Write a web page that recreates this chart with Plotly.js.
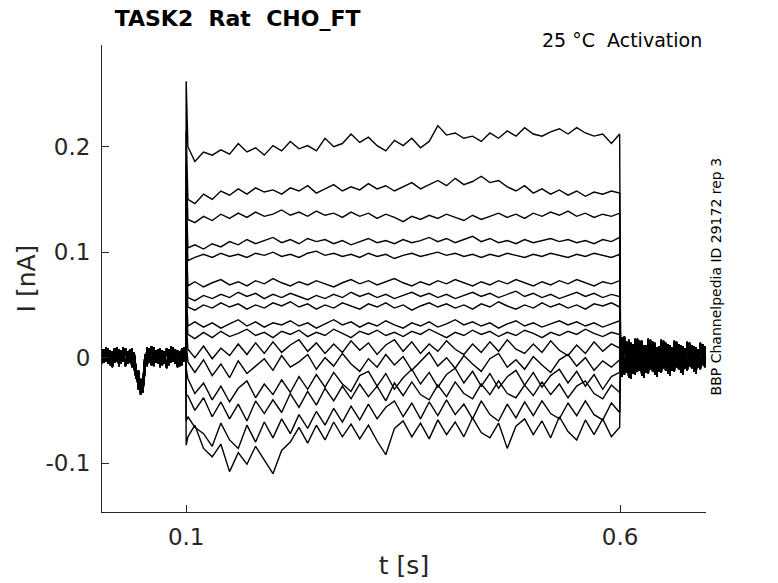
<!DOCTYPE html>
<html>
<head>
<meta charset="utf-8">
<script src="https://cdn.plot.ly/plotly-3.0.1.min.js"></script>
<style>
  html, body { margin: 0; padding: 0; background: #fff; }
  #plot { width: 778px; height: 583px; }
</style>
</head>
<body>
<div id="plot"></div>
<script>
// sample times [s]
var tPre = [0, 0.0025, 0.005, 0.0075, 0.01, 0.0125, 0.015, 0.0175, 0.02, 0.0225,
    0.025, 0.0275, 0.03, 0.0325, 0.035, 0.0375, 0.04, 0.0425, 0.045, 0.0475,
    0.05, 0.0525, 0.055, 0.0575, 0.06, 0.0625, 0.065, 0.0675, 0.07, 0.0725,
    0.075, 0.0775, 0.08, 0.0825, 0.085, 0.0875, 0.09, 0.0925, 0.095, 0.0975, 0.0995];
var tStep = [0.102, 0.11, 0.12, 0.13, 0.14, 0.15, 0.16, 0.17, 0.18, 0.19,
    0.20, 0.21, 0.22, 0.23, 0.24, 0.25, 0.26, 0.27, 0.28, 0.29,
    0.30, 0.31, 0.32, 0.33, 0.34, 0.35, 0.36, 0.37, 0.38, 0.39,
    0.40, 0.41, 0.42, 0.43, 0.44, 0.45, 0.46, 0.47, 0.48, 0.49,
    0.50, 0.51, 0.52, 0.53, 0.54, 0.55, 0.56, 0.57, 0.58, 0.59, 0.5995];
var tPost = [0.6005, 0.6025, 0.605, 0.6075, 0.61, 0.6125, 0.615, 0.6175, 0.62, 0.6225,
    0.625, 0.6275, 0.63, 0.6325, 0.635, 0.6375, 0.64, 0.6425, 0.645, 0.6475,
    0.65, 0.6525, 0.655, 0.6575, 0.66, 0.6625, 0.665, 0.6675, 0.67, 0.6725,
    0.675, 0.6775, 0.68, 0.6825, 0.685, 0.6875, 0.69, 0.6925, 0.695, 0.6975, 0.7];

// currents in pA (plotted in nA); two holding-level baselines, used by alternate sweeps
var preI1 = [5, -6, 8, -4, 9, -7, 6, -5, 10, -8, 7, -4, 9, -6, 8, -9, 5, -14, -30, -20,
    -33, -12, 10, -5, 11, -8, 7, -6, 9, -7, 6, -10, 8, -5, 10, -6, 7, -8, 9, -4, 6];
var preI2 = [-7, 8, -5, 10, -6, 7, -9, 9, -4, 8, -6, 10, -8, 6, -5, 9, -10, -20, -12, -35,
    -25, 3, -8, 9, -7, 10, -5, 8, -9, 7, -6, 9, -7, 11, -4, 8, -9, 6, -7, 10, -3];
var postI1 = [15, -18, 20, -14, 17, -20, 13, -16, 18, -12, 16, -19, 12, -15, 17, -13, 14, -18, 11, -14,
    16, -12, 13, -17, 10, -13, 15, -11, 12, -16, 9, -12, 14, -10, 11, -15, 8, -11, 13, -9, 10];
var postI2 = [-12, 19, -16, 15, -19, 14, -15, 18, -13, 16, -17, 12, -14, 18, -11, 15, -16, 10, -13, 17,
    -10, 14, -15, 12, -12, 16, -9, 13, -14, 11, -10, 15, -8, 12, -13, 10, -9, 14, -7, 11, -8];

var onsetPeak = [262, 215, 185, 160, 140, 120, 100, 85, 65, 50, 35, 15, -10, -35, -60, -83];

var stepA = [200, 186, 195, 192, 197, 193, 203, 195, 199, 192,
    201, 196, 205, 198, 201, 196, 208, 200, 203, 212,
    204, 209, 201, 196, 206, 201, 208, 199, 205, 220,
    211, 213, 208, 210, 205, 213, 208, 215, 210, 218,
    212, 210, 214, 217, 212, 218, 213, 210, 212, 203, 212];
var stepB = [150, 146, 155, 150, 158, 154, 160, 155, 161, 157,
    159, 155, 161, 158, 163, 156, 160, 164, 158, 162,
    159, 165, 160, 163, 158, 162, 166, 160, 164, 168,
    163, 170, 164, 167, 172, 166, 168, 162, 158, 163,
    156, 160, 155, 159, 154, 158, 153, 157, 155, 158, 156];
var stepC = [131, 128, 134, 130, 136, 132, 137, 133, 138, 134,
    136, 140, 135, 138, 134, 139, 135, 137, 133, 138,
    134, 137, 132, 136, 133, 129, 134, 131, 135, 132,
    136, 133, 130, 135, 131, 134, 137, 133, 136, 132,
    137, 134, 138, 135, 139, 134, 137, 133, 136, 134, 137];
var stepD = [104, 107, 103, 108, 105, 110, 107, 112, 108, 111,
    114, 109, 112, 108, 113, 110, 112, 108, 111, 107,
    110, 113, 109, 111, 108, 112, 109, 111, 114, 110,
    113, 109, 112, 115, 110, 113, 109, 111, 108, 112,
    109, 111, 113, 110, 112, 109, 111, 108, 112, 110, 114];
var stepE = [92, 95, 98, 95, 99, 96, 98, 95, 99, 97,
    100, 96, 98, 95, 99, 101, 97, 99, 96, 98,
    95, 99, 96, 98, 94, 97, 99, 96, 98, 100,
    97, 99, 96, 98, 95, 98, 96, 99, 97, 95,
    98, 96, 99, 97, 95, 98, 96, 99, 97, 95, 98];
var stepF = [68, 72, 67, 71, 74, 69, 72, 68, 73, 70,
    75, 71, 68, 72, 69, 73, 70, 67, 71, 74,
    70, 73, 69, 72, 75, 71, 68, 72, 69, 73,
    70, 74, 71, 68, 72, 69, 73, 70, 74, 71,
    68, 72, 69, 73, 70, 74, 71, 68, 72, 70, 73];
var stepG = [57, 54, 59, 56, 60, 57, 62, 58, 61, 56,
    60, 57, 61, 58, 55, 59, 56, 60, 57, 62,
    58, 61, 57, 60, 56, 59, 62, 58, 61, 57,
    60, 56, 59, 62, 58, 61, 57, 60, 63, 58,
    61, 57, 60, 56, 59, 62, 58, 61, 57, 60, 58];
var stepH = [48, 45, 50, 47, 52, 48, 51, 46, 50, 47,
    52, 49, 53, 48, 51, 46, 50, 47, 52, 49,
    46, 51, 48, 52, 47, 50, 45, 49, 52, 48,
    51, 47, 50, 46, 51, 48, 53, 49, 46, 50,
    47, 52, 48, 51, 47, 50, 46, 51, 49, 52, 48];
var stepI = [30, 34, 29, 33, 28, 32, 36, 30, 34, 29,
    33, 31, 35, 30, 33, 28, 32, 36, 31, 34,
    29, 33, 30, 35, 31, 28, 33, 30, 34, 29,
    32, 36, 31, 34, 30, 33, 28, 32, 35, 30,
    33, 29, 32, 35, 31, 34, 30, 33, 29, 32, 35];
var stepJ = [22, 18, 24, 19, 25, 20, 23, 27, 21, 24,
    19, 25, 22, 26, 20, 24, 21, 27, 23, 19,
    25, 22, 26, 21, 24, 20, 25, 22, 27, 23,
    19, 24, 21, 26, 22, 25, 20, 24, 21, 26,
    23, 19, 24, 21, 25, 22, 27, 23, 20, 24, 22];
var stepK = [8, 0, 11, -1, 9, 2, 13, 3, 14, 4,
    15, 5, 12, 17, 6, 14, 4, 13, 5, 16,
    7, 14, 3, 12, 17, 6, 15, 4, 13, 6,
    16, 8, 3, 13, 5, 15, 6, 17, 8, 4,
    13, 5, 16, 7, 2, 12, 4, 15, 6, 13, 9];
var stepL = [-4, -14, -2, -17, -6, -19, -3, -15, -8, -1,
    -12, 2, -9, -4, 3, -11, 0, -8, 4, -6,
    -13, -1, -9, 3, -7, 1, -12, -3, 5, -8,
    0, -10, 2, -6, -13, -1, 4, -9, -2, -11,
    1, -7, -14, -2, 3, -8, 0, -12, -3, -9, -2];
var stepM = [-20, -34, -24, -40, -27, -42, -29, -22, -38, -25,
    -35, -21, -33, -18, -30, -16, -28, -14, -25, -32,
    -17, -13, -27, -15, -30, -19, -11, -25, -14, -28,
    -16, -10, -24, -13, -27, -15, -29, -18, -12, -26,
    -14, -28, -17, -11, -24, -13, -27, -16, -30, -18, -14];
var stepN = [-36, -50, -38, -56, -42, -58, -44, -60, -41, -53,
    -40, -52, -34, -47, -32, -45, -29, -41, -27, -39,
    -25, -37, -27, -41, -24, -36, -23, -35, -40, -26,
    -37, -23, -34, -39, -25, -35, -22, -34, -38, -26,
    -36, -23, -35, -25, -38, -27, -22, -34, -39, -26, -33];
var stepO = [-56, -66, -72, -84, -62, -78, -86, -64, -80, -61,
    -76, -58, -72, -54, -67, -51, -64, -48, -61, -46,
    -59, -44, -58, -47, -41, -56, -43, -58, -42, -55,
    -40, -54, -44, -58, -41, -54, -60, -44, -57, -42,
    -55, -41, -53, -58, -43, -55, -41, -54, -59, -43, -52];
var stepP = [-75, -64, -86, -94, -82, -108, -90, -101, -84, -97,
    -110, -88, -80, -66, -81, -64, -78, -61, -75, -63,
    -77, -64, -79, -92, -67, -60, -75, -62, -77, -59,
    -73, -61, -75, -57, -71, -76, -62, -86, -65, -58,
    -73, -60, -76, -56, -70, -78, -59, -73, -58, -75, -66];

var steps = [stepA, stepB, stepC, stepD, stepE, stepF, stepG, stepH,
    stepI, stepJ, stepK, stepL, stepM, stepN, stepO, stepP];

var tAll = tPre.concat([0.1], tStep, tPost);
var data = steps.map(function (cur, k) {
    var pre = k % 2 ? preI2 : preI1;
    var post = k % 2 ? postI2 : postI1;
    var pA = pre.concat([onsetPeak[k]], cur, post);
    return {
        x: tAll,
        y: pA.map(function (v) { return v / 1000; }),
        type: 'scatter',
        mode: 'lines',
        line: {color: '#000000', width: 1.4},
        hoverinfo: 'skip',
        showlegend: false
    };
});

var axisFont = {family: 'DejaVu Sans', size: 23, color: '#262626'};
var labelFont = {family: 'DejaVu Sans', size: 25, color: '#262626'};

var layout = {
    width: 778,
    height: 583,
    paper_bgcolor: '#ffffff',
    plot_bgcolor: '#ffffff',
    margin: {l: 102, r: 72, t: 45, b: 71},
    font: {family: 'DejaVu Sans', color: '#262626'},
    title: {
        text: '<b>TASK2\u00a0\u00a0Rat\u00a0\u00a0CHO_FT</b>',
        font: {family: 'DejaVu Sans', size: 22, color: '#000000'},
        xref: 'paper', x: 0.021, xanchor: 'left',
        y: 0.969, yanchor: 'middle'
    },
    xaxis: {
        range: [0.003, 0.699],
        tickvals: [0.1, 0.6],
        ticktext: ['0.1', '0.6'],
        ticks: 'inside', ticklen: 7, tickcolor: '#262626',
        showline: true, linecolor: '#262626', linewidth: 1,
        showgrid: false, zeroline: false,
        tickfont: axisFont,
        ticklabelstandoff: 4,
        title: {text: 't [s]', font: labelFont, standoff: 7}
    },
    yaxis: {
        range: [-0.1463, 0.2964],
        tickvals: [-0.1, 0, 0.1, 0.2],
        ticktext: ['-0.1', '0', '0.1', '0.2'],
        ticks: 'inside', ticklen: 7, tickcolor: '#262626',
        showline: true, linecolor: '#262626', linewidth: 1,
        showgrid: false, zeroline: false,
        tickfont: axisFont,
        ticklabelstandoff: 6,
        title: {text: 'I [nA]', font: labelFont, standoff: 2}
    },
    annotations: [
        {
            text: '25 °C\u00a0\u00a0Activation',
            xref: 'paper', yref: 'paper', x: 0.997, y: 1.011,
            xanchor: 'right', yanchor: 'middle', showarrow: false,
            font: {family: 'DejaVu Sans', size: 19, color: '#000000'}
        },
        {
            text: 'BBP Channelpedia ID 29172 rep 3',
            xref: 'paper', yref: 'paper', x: 1.017, y: 0.505,
            xanchor: 'center', yanchor: 'middle', textangle: -90, showarrow: false,
            font: {family: 'DejaVu Sans', size: 14, color: '#000000'}
        }
    ]
};

Plotly.newPlot('plot', data, layout, {displayModeBar: false, staticPlot: true});
</script>
</body>
</html>
